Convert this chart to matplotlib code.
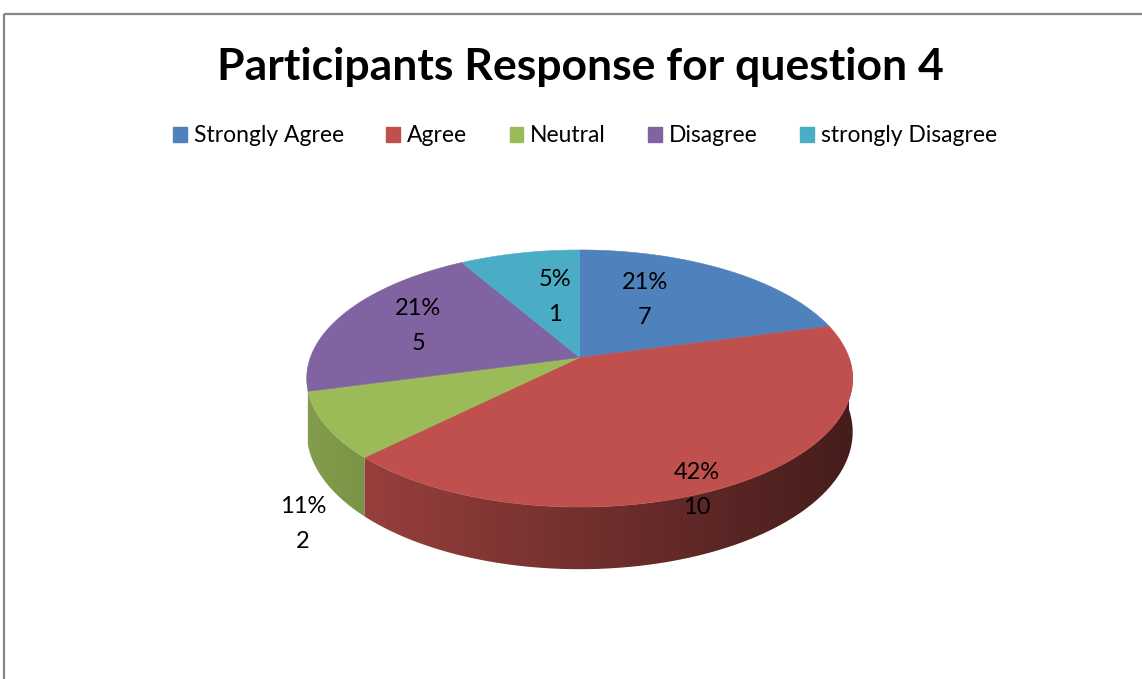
import numpy as np
import matplotlib
matplotlib.use("Agg")
import matplotlib.pyplot as plt
from matplotlib.patches import Polygon, Rectangle, Patch
from matplotlib.colors import to_rgb

# ---------------- data ----------------
title = "Participants Response for question 4"
categories = ["Strongly Agree", "Agree", "Neutral", "Disagree", "strongly Disagree"]
slice_values = [5, 10, 2, 5, 2]          # relative slice sizes as drawn
pct_labels = ["21%", "42%", "11%", "21%", "5%"]
count_labels = [7, 10, 2, 5, 1]
colors = ["#4F81BD", "#C0504D", "#9BBB59", "#8064A2", "#4BACC6"]

# ---------------- layout / style ----------------
W, H = 1142, 679
FONT = ["Lato", "DejaVu Sans"]
CX, CY = 579.7, 357.5        # pie centre (pixel-like units)
RX, RY = 269.3, 125.1        # half-axes of the top face
K = 0.1634                   # perspective strength
DEPTH = 52                   # thickness of the pie
SIDE_FROM = 194.5            # first angle (deg) where the side wall shows
# label placement: (angle offset from slice middle, radius fraction)
label_place = [(9.7, 0.562), (-7.6, 0.976), (22.3, 1.381), (-0.3, 0.679), (-4.3, 0.534)]

fig = plt.figure(figsize=(W / 100, H / 100), dpi=100)
ax = fig.add_axes([0, 0, 1, 1])


def proj(theta, r=1.0, h=0.0):
    t = np.radians(theta)
    u = r * np.cos(t)
    v = r * np.sin(t)
    s = 1.0 / (1.0 + K * v)
    return CX + RX * u * s, CY - RY * v * s + DEPTH * h * s


vals = np.asarray(slice_values, dtype=float)
frac = vals / vals.sum()
cum = np.concatenate([[0], np.cumsum(frac)])
starts = 90 - 360 * cum[:-1]
ends = 90 - 360 * cum[1:]

# side walls: one clipped gradient per slice
gx0, gx1 = CX - RX * 1.1, CX + RX * 1.1
xs_grad = np.linspace(gx0, gx1, 600)
shade = np.clip(0.82 - 0.00088 * (xs_grad - 330), 0.3, 0.9)
for a0, a1, c in zip(starts, ends, colors):
    lo = a1 % 360
    hi = lo + (a0 - a1)
    lo2 = max(lo, SIDE_FROM)
    hi2 = min(hi, 360.0)
    if hi2 <= lo2:
        continue
    th = np.linspace(lo2, hi2, 200)
    tx, ty = proj(th)
    bx, by = proj(th[::-1], h=1)
    poly = Polygon(np.column_stack([np.r_[tx, bx], np.r_[ty, by]]), closed=True,
                   facecolor="none", edgecolor="none")
    ax.add_patch(poly)
    base = np.array(to_rgb(c))
    img = (base[None, None, :] * shade[None, :, None])
    im = ax.imshow(img, extent=(gx0, gx1, CY + RY * 2.5, CY - RY * 2),
                   aspect="auto", interpolation="bilinear", zorder=2)
    im.set_clip_path(poly)

# top faces
for a0, a1, c in zip(starts, ends, colors):
    th = np.linspace(a0, a1, 240)
    xs, ys = proj(th)
    pts = np.column_stack([np.r_[CX, xs], np.r_[CY, ys]])
    ax.add_patch(Polygon(pts, closed=True, facecolor=c, edgecolor=c, lw=0.4, zorder=3))

# data labels
for a0, a1, p, n, (dth, r) in zip(starts, ends, pct_labels, count_labels, label_place):
    mid = 0.5 * (a0 + a1) + dth
    x, y = proj(mid, r=r)
    ax.text(x, y, f"{p}\n{n}", ha="center", va="center", fontsize=17,
            linespacing=1.8, family=FONT, color="black", zorder=5)

# title
fig.text(580 / W, 1 - 67 / H, title, ha="center", va="center", fontsize=32,
         fontweight="bold", family=FONT)

# legend
handles = [Patch(facecolor=c, edgecolor=c) for c in colors]
leg = fig.legend(handles, categories, ncol=5, loc="center",
                 bbox_to_anchor=(585 / W, 1 - 136 / H), frameon=False,
                 prop={"family": FONT, "size": 16.5}, handlelength=0.6,
                 handleheight=0.6, handletextpad=0.3, columnspacing=1.85)

# chart border
ax.add_patch(Rectangle((3.5, 13.5), 1300, 800, fill=False, edgecolor="#868686",
                       lw=1.6, zorder=1))

ax.set_xlim(0, W)
ax.set_ylim(H, 0)
ax.axis("off")

fig.savefig("out.png", dpi=100)
